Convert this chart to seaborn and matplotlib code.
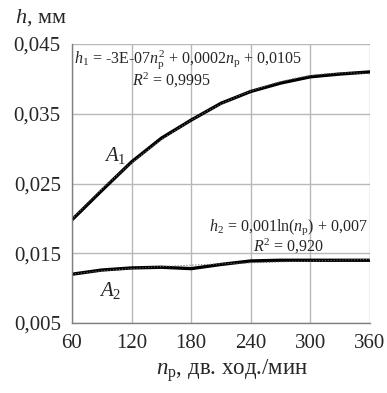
import numpy as np
import pandas as pd
import matplotlib
matplotlib.use('Agg')
import matplotlib.pyplot as plt
import seaborn as sns

# --- données ---
n_p = [60, 90, 120, 150, 180, 210, 240, 270, 300, 330, 360]
h1 = [0.0198, 0.0240, 0.0281, 0.0315, 0.0341, 0.0365, 0.0382, 0.0394, 0.0403, 0.0407, 0.0410]
h2 = [0.0120, 0.0126, 0.0129, 0.0130, 0.0128, 0.0134, 0.0139, 0.0140, 0.0140, 0.0140, 0.0140]

x_ticks = [60, 120, 180, 240, 300, 360]
y_ticks = [0.005, 0.015, 0.025, 0.035, 0.045]
y_tick_labels = ['0,005', '0,015', '0,025', '0,035', '0,045']

df1 = pd.DataFrame({'n': n_p, 'h': h1})
df2 = pd.DataFrame({'n': n_p, 'h': h2})

sns.set_style('whitegrid')
plt.rcParams['font.family'] = ['Liberation Serif', 'DejaVu Serif']
plt.rcParams['mathtext.fontset'] = 'custom'
plt.rcParams['mathtext.rm'] = 'Liberation Serif'
plt.rcParams['mathtext.it'] = 'Liberation Serif:italic'

fig = plt.figure(figsize=(3.87, 3.93), dpi=100)
ax = fig.add_axes([0.186, 0.178, 0.77, 0.71])

# courbes
sns.lineplot(data=df1, x='n', y='h', color='black', lw=2.4, ax=ax)
sns.lineplot(data=df2, x='n', y='h', color='black', lw=2.4, ax=ax)

# lignes de tendance (au-dessus des courbes)
sns.regplot(data=df1, x='n', y='h', order=2, ci=None, scatter=False, truncate=True,
            line_kws={'color': '#666666', 'lw': 0.8, 'ls': ':', 'zorder': 4}, ax=ax)
sns.regplot(data=df2, x='n', y='h', logx=True, ci=None, scatter=False, truncate=True,
            line_kws={'color': '#666666', 'lw': 0.8, 'ls': ':', 'zorder': 4}, ax=ax)

ax.set_xlim(60, 360)
ax.set_ylim(0.005, 0.045)
ax.set_xticks(x_ticks)
ax.set_yticks(y_ticks)
ax.set_yticklabels(y_tick_labels)
ax.set_xlabel('')
ax.set_ylabel('')
ax.tick_params(labelsize=15, length=5, color='#808080', pad=3)
ax.grid(color='#b8b8b8', lw=1)
for s in ['top', 'right']:
    ax.spines[s].set_visible(False)
for s in ['left', 'bottom']:
    ax.spines[s].set_color('#808080')
    ax.spines[s].set_linewidth(1)

# textes
fig.text(0.04, 0.955, '$h$, мм', fontsize=16, va='center')
fig.text(0.60, 0.058, '$n_\\mathrm{p}$, дв. ход./мин', fontsize=16.5, ha='center', va='center')

ax.text(62, 0.0427, '$h_1$ = -3E-07$n_\\mathrm{p}^2$ + 0,0002$n_\\mathrm{p}$ + 0,0105',
        fontsize=11.5, va='center')
ax.text(160, 0.0398, '$R^2$ = 0,9995', fontsize=11.5, ha='center', va='center')
ax.text(278, 0.0187, '$h_2$ = 0,001ln($n_\\mathrm{p}$) + 0,007', fontsize=11.5, ha='center', va='center')
ax.text(278, 0.0160, '$R^2$ = 0,920', fontsize=11.5, ha='center', va='center')
ax.text(92, 0.0290, '$A_1$', fontsize=15, va='center')
ax.text(87, 0.0097, '$A_2$', fontsize=15, va='center')

fig.savefig('out.png', dpi=100)
